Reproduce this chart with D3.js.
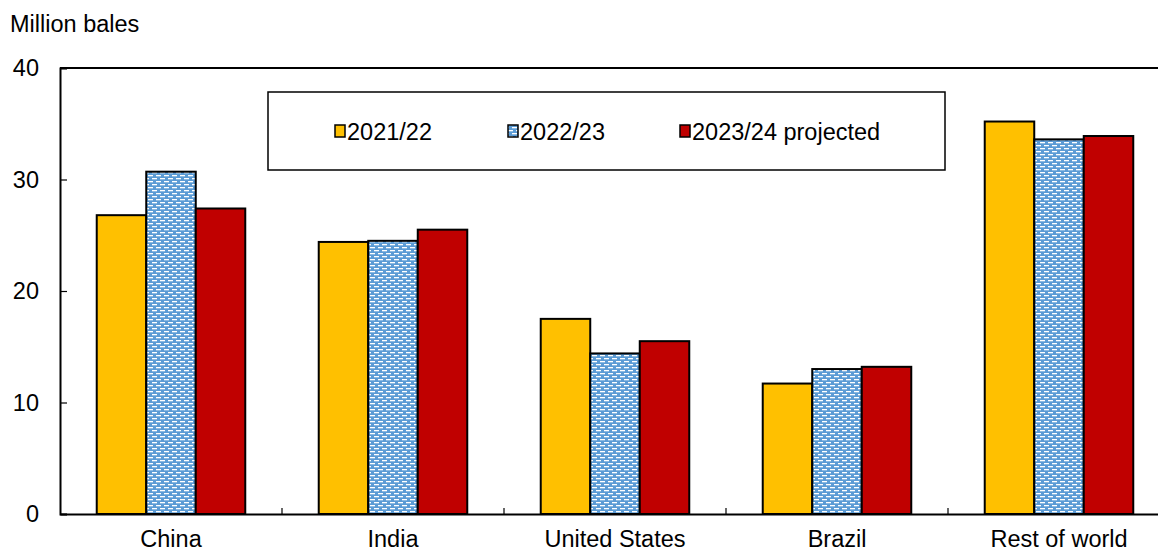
<!DOCTYPE html>
<html>
<head>
<meta charset="utf-8">
<script src="https://cdn.jsdelivr.net/npm/d3@7"></script>
<style>
  html, body { margin: 0; padding: 0; background: #fff; }
  svg { display: block; font-family: Arial, "Liberation Sans", sans-serif; }
</style>
</head>
<body>
<svg id="chart" width="1158" height="552"></svg>
<script>
// Cotton figures by region, million bales
const categories = ["China", "India", "United States", "Brazil", "Rest of world"];
const seriesNames = ["2021/22", "2022/23", "2023/24 projected"];
const values2021 = [26.8, 24.4, 17.5, 11.7, 35.2];
const values2022 = [30.7, 24.5, 14.4, 13.0, 33.6];
const values2023 = [27.4, 25.5, 15.5, 13.2, 33.9];
const yTicks = [0, 10, 20, 30, 40];
const unitLabel = "Million bales";

const series = [values2021, values2022, values2023];
const FONT = "Arial, 'Liberation Sans', sans-serif";
const FS = 23.5;

const svg = d3.select("#chart");
const margin = { left: 60, top: 68, right: -12, bottom: 38 };
const W = 1158, H = 552;
const plotRight = W - margin.right;
const plotBottom = H - margin.bottom;

const x0 = d3.scaleBand().domain(categories).range([margin.left, plotRight]).paddingInner(0).paddingOuter(0);
const x1 = d3.scaleBand().domain(seriesNames).range([0, x0.bandwidth()]).paddingInner(0).paddingOuter(0.742);
const y = d3.scaleLinear().domain([0, 40]).range([plotBottom, margin.top]);

// Dashed-brick fill for the middle series
const defs = svg.append("defs");
const pat = defs.append("pattern").attr("id", "brick").attr("patternUnits", "userSpaceOnUse")
  .attr("width", 8).attr("height", 6);
pat.append("rect").attr("width", 8).attr("height", 6).attr("fill", "#5B9BD5");
pat.append("rect").attr("x", 0).attr("y", 1).attr("width", 5).attr("height", 1.3).attr("fill", "#fff");
pat.append("rect").attr("x", 4).attr("y", 4).attr("width", 5).attr("height", 1.3).attr("fill", "#fff");
pat.append("rect").attr("x", -4).attr("y", 4).attr("width", 5).attr("height", 1.3).attr("fill", "#fff");

const fills = ["#FFC000", "url(#brick)", "#C00000"];

// Plot frame (top edge)
svg.append("line").attr("x1", margin.left).attr("x2", W).attr("y1", y(40)).attr("y2", y(40))
  .attr("stroke", "#000").attr("stroke-width", 2);

// Bars
const groups = svg.append("g").selectAll("g").data(categories).join("g")
  .attr("transform", d => `translate(${x0(d)},0)`);
seriesNames.forEach((s, si) => {
  groups.append("rect")
    .attr("x", x1(s))
    .attr("width", x1.bandwidth())
    .attr("y", (d, i) => y(series[si][i]))
    .attr("height", (d, i) => y(0) - y(series[si][i]))
    .attr("fill", fills[si])
    .attr("stroke", "#000")
    .attr("stroke-width", 2);
});

// Y axis
const yAxis = svg.append("g").attr("transform", `translate(${margin.left},0)`)
  .call(d3.axisLeft(y).tickValues(yTicks).tickSize(-7).tickPadding(21).tickFormat(d3.format("d")));
yAxis.select(".domain").attr("stroke", "#000").attr("stroke-width", 2);
yAxis.selectAll(".tick line").attr("stroke", "#000").attr("stroke-width", 1.2);
yAxis.selectAll(".tick text").attr("font-size", FS).attr("fill", "#000").attr("font-family", FONT);

// X axis with category separators
const xAxis = svg.append("g").attr("transform", `translate(0,${plotBottom})`)
  .call(d3.axisBottom(x0).tickSize(0).tickPadding(16));
xAxis.select(".domain").attr("stroke", "#000").attr("stroke-width", 2);
xAxis.selectAll(".tick text").attr("font-size", FS).attr("fill", "#000").attr("font-family", FONT);
svg.append("g").selectAll("line").data(categories.slice(1)).join("line")
  .attr("x1", d => x0(d)).attr("x2", d => x0(d))
  .attr("y1", plotBottom).attr("y2", plotBottom - 6)
  .attr("stroke", "#000").attr("stroke-width", 1.2);

// Unit label
svg.append("text").attr("x", 10).attr("y", 32).attr("font-size", FS).attr("fill", "#000").text(unitLabel);

// Legend
const legend = svg.append("g");
legend.append("rect").attr("x", 268).attr("y", 92).attr("width", 677).attr("height", 78)
  .attr("fill", "#fff").attr("stroke", "#000").attr("stroke-width", 1.5);
const legendX = [335, 508, 680];
seriesNames.forEach((s, i) => {
  legend.append("rect").attr("x", legendX[i]).attr("y", 125).attr("width", 10).attr("height", 12)
    .attr("fill", fills[i]).attr("stroke", "#000").attr("stroke-width", 1.5);
  legend.append("text").attr("x", legendX[i] + 12).attr("y", 139.5).attr("font-size", FS)
    .attr("fill", "#000").text(s);
});
</script>
</body>
</html>
